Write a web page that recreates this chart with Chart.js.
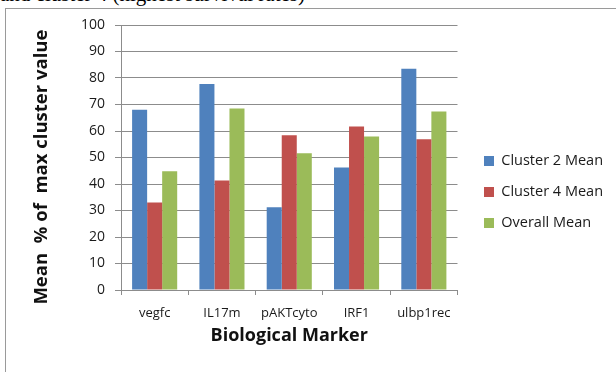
<!DOCTYPE html>
<html>
<head>
<meta charset="utf-8">
<script src="https://cdn.jsdelivr.net/npm/chart.js@4/dist/chart.umd.min.js"></script>
<style>
  html, body { margin: 0; padding: 0; background: #ffffff; }
  #wrap { position: relative; width: 616px; height: 372px; overflow: hidden; }
  #caption {
    position: absolute; left: 0px; top: -16px; line-height: 21px;
    font-family: "Liberation Serif", "DejaVu Serif", serif; font-size: 21px; color: #000;
    white-space: nowrap;
  }
  #frame {
    position: absolute; left: 5px; top: 8px; width: 640px; height: 400px;
    border: 1px solid #9a9a9a; box-sizing: border-box;
  }
  #c { position: absolute; left: 0; top: 0; }
</style>
</head>
<body>
<div id="wrap">
  <div id="caption">and cluster 4 (highest survival rates)</div>
  <div id="frame"></div>
  <canvas id="c" width="616" height="372"></canvas>
</div>
<script>
// Markers and the three mean series (percent of max cluster value)
const markers = ["vegfc", "IL17m", "pAKTcyto", "IRF1", "ulbp1rec"];
const cluster2Mean = [68.0, 77.7, 31.2, 46.2, 83.5];
const cluster4Mean = [33.0, 41.3, 58.4, 61.7, 56.9];
const overallMean  = [44.8, 68.5, 51.6, 57.9, 67.4];
const yTicks = [0, 10, 20, 30, 40, 50, 60, 70, 80, 90, 100];

const FONT = "'Open Sans', Lato, sans-serif";
const GRID = "#8c8c8c";

// Draws the legend slightly offset from where the layout puts it,
// leaving a wider gap between the plot and the legend entries.
const legendOffset = {
  id: "legendOffset",
  afterInit(chart, args, opts) {
    const lg = chart.legend;
    if (!lg) return;
    const draw = lg.draw.bind(lg);
    lg.draw = function () {
      const ctx = chart.ctx;
      ctx.save();
      ctx.translate(opts.dx || 0, opts.dy || 0);
      draw();
      ctx.restore();
    };
  }
};

new Chart(document.getElementById("c"), {
  type: "bar",
  data: {
    labels: markers,
    datasets: [
      { label: "Cluster 2 Mean", data: cluster2Mean, backgroundColor: "#4F81BD" },
      { label: "Cluster 4 Mean", data: cluster4Mean, backgroundColor: "#C0504D" },
      { label: "Overall Mean",   data: overallMean,  backgroundColor: "#9BBB59" }
    ]
  },
  plugins: [legendOffset],
  options: {
    responsive: false,
    animation: false,
    devicePixelRatio: 1,
    datasets: { bar: { categoryPercentage: 0.67, barPercentage: 1.0, borderWidth: 0 } },
    layout: { padding: { left: 27, top: 25, right: 15, bottom: 21 } },
    plugins: {
      tooltip: { enabled: false },
      legendOffset: { dx: 10, dy: 4 },
      legend: {
        position: "right",
        labels: {
          boxWidth: 10, boxHeight: 10, padding: 16.5,
          color: "#1a1a1a",
          font: { family: FONT, size: 14.5 }
        }
      }
    },
    scales: {
      x: {
        offset: true,
        grid: { offset: true, drawOnChartArea: false, drawTicks: true, tickLength: 5, color: GRID },
        border: { color: GRID, width: 1 },
        ticks: { color: "#1a1a1a", padding: 10, font: { family: FONT, size: 13 } },
        title: { display: true, text: "Biological Marker", color: "#111",
                 font: { family: FONT, size: 18, weight: "bold" }, padding: { top: 2, bottom: 4 } },
        afterFit: s => { s.height = 61; }
      },
      y: {
        min: 0, max: 100,
        afterBuildTicks: s => { s.ticks = yTicks.map(v => ({ value: v })); },
        grid: { color: GRID, drawTicks: true, tickLength: 6 },
        border: { color: GRID, width: 1 },
        ticks: { color: "#1a1a1a", padding: 10, font: { family: FONT, size: 14 } },
        // trailing spaces nudge the centred title down along the axis
        title: { display: true, text: "Mean  % of  max cluster value    ", color: "#111",
                 font: { family: FONT, size: 18.5, weight: "bold" }, padding: { top: 4, bottom: 4 } },
        afterFit: s => { s.width = 94; }
      }
    }
  }
});
</script>
</body>
</html>
